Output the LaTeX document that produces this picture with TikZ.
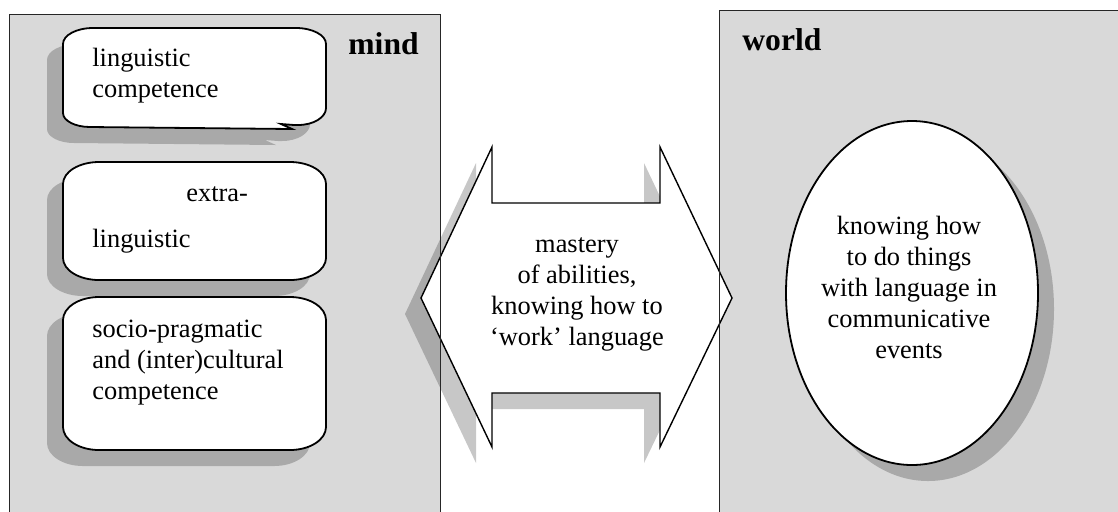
\documentclass[tikz,border=0pt]{standalone}
\usepackage{fontspec}
\setmainfont{Liberation Serif}
\begin{document}
\begin{tikzpicture}[x=0.5pt,y=0.5pt,
  boxfill/.style={fill=black!15},
  boxline/.style={draw=black!85,line width=0.5pt},
  shadowfill/.style={fill=black,opacity=0.22},
  bubble/.style={fill=white,draw=black,line width=0.9pt},
  arrowline/.style={fill=white,draw=black,line width=0.7pt},
  txt/.style={inner sep=0pt,font=\fontsize{13.2}{15.4}\selectfont},
  lbl/.style={inner sep=0pt,font=\fontsize{15.8}{18}\selectfont\bfseries},
  rrect/.style n args={6}{insert path={(#1+#5,-#2) -- (#3-#5,-#2)
     arc[start angle=90,end angle=0,x radius=#5,y radius=#6] -- (#3,-#4+#6)
     arc[start angle=0,end angle=-90,x radius=#5,y radius=#6] -- (#1+#5,-#4)
     arc[start angle=270,end angle=180,x radius=#5,y radius=#6] -- (#1,-#2-#6)
     arc[start angle=180,end angle=90,x radius=#5,y radius=#6] -- cycle}},
  bubbleone/.style={insert path={(93,-28) -- (296,-28)
     arc[start angle=90,end angle=0,x radius=30,y radius=16] -- (326,-108)
     arc[start angle=0,end angle=-90,x radius=28,y radius=17] -- (294,-125)
     -- (281,-124) -- (292,-129) -- (90,-127)
     arc[start angle=270,end angle=180,x radius=27,y radius=14] -- (63,-44)
     arc[start angle=180,end angle=90,x radius=30,y radius=16] -- cycle}},
  dblarrow/.style={insert path={(421,-298) -- (492,-147) -- (492,-203) -- (660,-203)
     -- (660,-147) -- (732,-298) -- (660,-447) -- (660,-393) -- (492,-393)
     -- (492,-447) -- cycle}}
]
\useasboundingbox (0,0) rectangle (1118,-511);
\clip (0,0) rectangle (1118,-511);
% box fills
\fill[boxfill] (9,-14) rectangle (440,-530);
\fill[boxfill] (719,-10) rectangle (1130,-530);
% shadows
\fill[shadowfill,xshift=-8pt,yshift=-8pt] [bubbleone];
\fill[shadowfill,xshift=-8pt,yshift=-8pt] [rrect={63}{162}{326}{280}{36}{22}];
\fill[shadowfill,xshift=-8pt,yshift=-8pt] [rrect={63}{297}{326}{450}{36}{23}];
\fill[shadowfill] (928,-309) ellipse[x radius=126,y radius=172];
\fill[shadowfill,xshift=-8pt,yshift=-8pt] [dblarrow];
% arrow
\path[arrowline] [dblarrow];
% bubbles
\path[bubble] [bubbleone];
\path[bubble] [rrect={63}{162}{326}{280}{36}{22}];
\path[bubble] [rrect={63}{297}{326}{450}{36}{23}];
\path[bubble] (912,-293) ellipse[x radius=126,y radius=172];
% box borders
\draw[boxline] (9,-530) -- (9,-14) -- (440,-14) -- (440,-530);
\draw[boxline] (719,-530) -- (719,-10) -- (1130,-10);
% texts
\node[lbl,anchor=base west] (mind) at (348,-54) {mind};
\node[lbl,anchor=base west] (world) at (742,-50) {world};
\node[txt,anchor=base west,align=left] (ling) at (92,-97) {linguistic\\competence};
\node[txt,anchor=base west] (extra) at (186,-201) {extra-};
\node[txt,anchor=base west] (extraling) at (92,-247) {linguistic};
\node[txt,anchor=base west,align=left] (socio) at (92,-399) {socio-pragmatic\\and (inter)cultural\\competence};
\node[txt,anchor=base,align=center] (mastery) at (577,-345) {mastery\\of abilities,\\knowing how to\\‘work’ language};
\node[txt,anchor=base,align=center] (knowing) at (909,-358) {knowing how\\to do things\\with language in\\communicative\\events};
\end{tikzpicture}
\end{document}
